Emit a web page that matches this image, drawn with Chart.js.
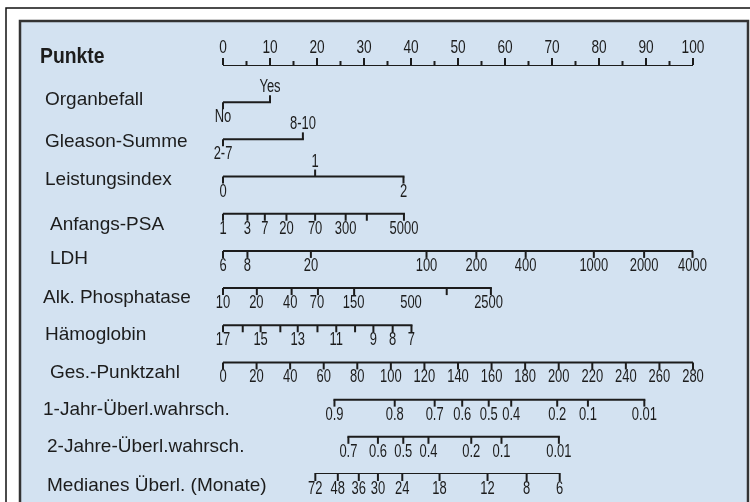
<!DOCTYPE html>
<html lang="de">
<head>
<meta charset="UTF-8">
<title>Nomogramm</title>
<script src="https://cdn.jsdelivr.net/npm/chart.js@4.4.1/dist/chart.umd.min.js"></script>
<style>
  html, body { margin: 0; padding: 0; background: #fff; }
</style>
</head>
<body>
<canvas id="chart" width="750" height="502"></canvas>
<script>
// ---- data (points scale 0-100, survival rows in total points 0-280) ----
const rowNames = ['Punkte', 'Organbefall', 'Gleason-Summe', 'Leistungsindex', 'Anfangs-PSA', 'LDH',
  'Alk. Phosphatase', 'Hämoglobin', 'Ges.-Punktzahl', '1-Jahr-Überl.wahrsch.',
  '2-Jahre-Überl.wahrsch.', 'Medianes Überl. (Monate)'];

const punkteTicks = [0, 10, 20, 30, 40, 50, 60, 70, 80, 90, 100];
const punkteLabels = ['0', '10', '20', '30', '40', '50', '60', '70', '80', '90', '100'];
const punkteMinor = [5, 15, 25, 35, 45, 55, 65, 75, 85, 95];

const organTicks = [0, 10];
const organLabels = ['No', 'Yes'];

const gleasonTicks = [0, 17];
const gleasonLabels = ['2-7', '8-10'];

const leistungTicks = [0, 19.6, 38.4];
const leistungLabels = ['0', '1', '2'];

const psaTicks = [0, 5.2, 8.9, 13.5, 19.6, 26.1, 30.6, 38.5];
const psaLabels = ['1', '3', '7', '20', '70', '300', '', '5000'];

const ldhTicks = [0, 5.2, 18.7, 43.3, 53.9, 64.4, 78.9, 89.6, 99.9];
const ldhLabels = ['6', '8', '20', '100', '200', '400', '1000', '2000', '4000'];

const alkTicks = [0, 7.2, 14.6, 20.2, 27.9, 47.6, 57.0];
const alkLabelPos = [0, 7.1, 14.3, 20.0, 27.8, 40.0, 56.5];
const alkLabels = ['10', '20', '40', '70', '150', '500', '2500'];

const hbTicks = [0, 4.2, 8.0, 12.2, 15.9, 20.1, 24.1, 28.1, 32.0, 36.1, 40.1];
const hbLabels = ['17', '', '15', '', '13', '', '11', '', '9', '8', '7'];

const gesTicks = [0, 20, 40, 60, 80, 100, 120, 140, 160, 180, 200, 220, 240, 260, 280];
const gesLabels = ['0', '20', '40', '60', '80', '100', '120', '140', '160', '180', '200', '220', '240', '260', '280'];

const jahr1Ticks = [66.4, 102.3, 126.1, 142.5, 158.3, 171.7, 199.1, 217.4, 251.0];
const jahr1Labels = ['0.9', '0.8', '0.7', '0.6', '0.5', '0.4', '0.2', '0.1', '0.01'];

const jahr2Ticks = [74.7, 92.3, 107.4, 122.4, 147.9, 165.9, 200.1];
const jahr2Labels = ['0.7', '0.6', '0.5', '0.4', '0.2', '0.1', '0.01'];

const medianTicks = [55.0, 68.4, 80.9, 92.3, 106.8, 129.0, 157.6, 180.9, 200.6];
const medianLabels = ['72', '48', '36', '30', '24', '18', '12', '8', '6'];

const TOTAL_MAX = 280; // Ges.-Punktzahl range mapped onto 0-100 points

// which ticks point upward (everything else points down)
const upTicks = {
  0: punkteTicks.map(() => true),
  1: [false, true],
  2: [false, true],
  3: [false, true, false]
};

// ---- layout ----
const labelX = [40, 45, 45, 45, 50, 50, 43, 45, 50, 43, 47, 47];
const labelDy = [-8, -2, 2, 3, 11, 8, 10, 9, 10, 10, 10, 12];
const INK = '#1c1c1c';

const toPts = v => v * 100 / TOTAL_MAX;
const rows = [
  { ticks: punkteTicks, labels: punkteLabels, minor: punkteMinor },
  { ticks: organTicks, labels: organLabels },
  { ticks: gleasonTicks, labels: gleasonLabels },
  { ticks: leistungTicks, labels: leistungLabels },
  { ticks: psaTicks, labels: psaLabels },
  { ticks: ldhTicks, labels: ldhLabels },
  { ticks: alkTicks, labels: alkLabels, labelPos: alkLabelPos },
  { ticks: hbTicks, labels: hbLabels },
  { ticks: gesTicks.map(toPts), labels: gesLabels },
  { ticks: jahr1Ticks.map(toPts), labels: jahr1Labels },
  { ticks: jahr2Ticks.map(toPts), labels: jahr2Labels },
  { ticks: medianTicks.map(toPts), labels: medianLabels }
];

const datasets = rows.map((r, i) => ({
  label: rowNames[i],
  data: [{ x: Math.min(...r.ticks), y: i }, { x: Math.max(...r.ticks), y: i }],
  borderColor: INK,
  borderWidth: 2,
  borderCapStyle: 'square',
  pointRadius: 0,
  tension: 0
}));

function narrowText(ctx, txt, x, y, font, sx) {
  ctx.save();
  ctx.font = font;
  ctx.translate(x, y);
  ctx.scale(sx, 1);
  ctx.fillText(txt, 0, 0);
  ctx.restore();
}

const frame = {
  id: 'frame',
  beforeDraw(chart) {
    const ctx = chart.ctx;
    ctx.save();
    ctx.fillStyle = '#fff';
    ctx.fillRect(0, 0, 750, 502);
    ctx.strokeStyle = '#111';
    ctx.lineWidth = 1.5;
    ctx.beginPath();
    ctx.moveTo(6, 510); ctx.lineTo(6, 8); ctx.lineTo(752, 8);
    ctx.stroke();
    ctx.fillStyle = '#d3e2f1';
    ctx.fillRect(20, 21, 728, 490);
    ctx.strokeStyle = '#333';
    ctx.lineWidth = 2.5;
    ctx.strokeRect(20, 21, 728, 490);
    ctx.restore();
  }
};

const nomogram = {
  id: 'nomogram',
  afterDatasetsDraw(chart) {
    const ctx = chart.ctx;
    const xs = chart.scales.x, ys = chart.scales.y;
    ctx.save();
    ctx.strokeStyle = INK;
    ctx.fillStyle = INK;
    ctx.lineWidth = 2;
    ctx.lineCap = 'butt';
    ctx.textAlign = 'center';
    ctx.textBaseline = 'middle';
    rows.forEach((r, i) => {
      const y = ys.getPixelForValue(i);
      const ups = upTicks[i] || [];
      r.ticks.forEach((t, k) => {
        const x = xs.getPixelForValue(t);
        const dir = ups[k] ? -1 : 1;
        ctx.beginPath();
        ctx.moveTo(x, y);
        ctx.lineTo(x, y + dir * 7);
        ctx.stroke();
      });
      (r.minor || []).forEach(t => {
        const x = xs.getPixelForValue(t);
        ctx.beginPath();
        ctx.moveTo(x, y);
        ctx.lineTo(x, y - 4);
        ctx.stroke();
      });
      const pos = r.labelPos || r.ticks;
      r.labels.forEach((txt, k) => {
        if (!txt) return;
        const x = xs.getPixelForValue(pos[k]);
        const dir = ups[k] ? -1 : 1;
        const font = i === 0 ? '19px "Liberation Sans", Arial, sans-serif' : '18px "Liberation Sans", Arial, sans-serif';
        narrowText(ctx, txt, x, y + dir * (i === 0 ? 17 : 15), font, 0.72);
      });
      // row title
      ctx.textAlign = 'left';
      if (i === 0) {
        narrowText(ctx, rowNames[i], labelX[i], y + labelDy[i], 'bold 22px "Liberation Sans", Arial, sans-serif', 0.88);
      } else {
        ctx.font = '19px "Liberation Sans", Arial, sans-serif';
        ctx.fillText(rowNames[i], labelX[i], y + labelDy[i]);
      }
      ctx.textAlign = 'center';
    });
    ctx.restore();
  }
};

new Chart(document.getElementById('chart'), {
  type: 'line',
  data: { datasets },
  options: {
    responsive: false,
    animation: false,
    layout: { padding: { left: 223, right: 57, top: 65, bottom: 28 } },
    scales: {
      x: { type: 'linear', min: 0, max: 100, display: false },
      y: { type: 'linear', min: 0, max: 11, reverse: true, display: false }
    },
    plugins: { legend: { display: false }, tooltip: { enabled: false } }
  },
  plugins: [frame, nomogram]
});
</script>
</body>
</html>
